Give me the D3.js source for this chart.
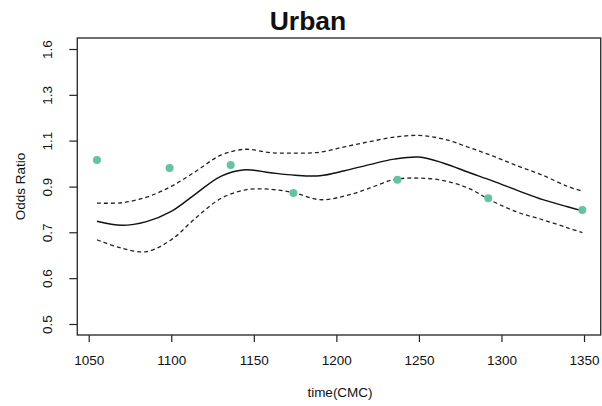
<!DOCTYPE html>
<html>
<head>
<meta charset="utf-8">
<script src="https://cdn.jsdelivr.net/npm/d3@7"></script>
<style>
  html, body { margin: 0; padding: 0; background: #fff; }
  svg text { font-family: "Liberation Sans", Arial, Helvetica, sans-serif; fill: #111; }
</style>
</head>
<body>
<svg id="chart" width="602" height="406"></svg>
<script>
// Observed odds ratios by survey time (CMC)
const pointTimes = [1055, 1099, 1136, 1174, 1237, 1292, 1349];
const pointOR    = [1.00, 0.967, 0.980, 0.870, 0.920, 0.851, 0.810];

// Smoothed fit and its confidence band, sampled along time
const curveTimes = [1055, 1070, 1085, 1100, 1115, 1130, 1145, 1160, 1175, 1190, 1205,
                    1220, 1235, 1250, 1265, 1280, 1295, 1310, 1325, 1340, 1349];
const fitOR   = [0.772, 0.759, 0.771, 0.805, 0.868, 0.934, 0.960, 0.948, 0.938, 0.936, 0.956,
                 0.981, 1.004, 1.013, 0.987, 0.950, 0.915, 0.879, 0.846, 0.821, 0.807];
const upperOR = [0.834, 0.835, 0.855, 0.895, 0.954, 1.021, 1.047, 1.032, 1.030, 1.034, 1.058,
                 1.081, 1.102, 1.110, 1.093, 1.056, 1.017, 0.975, 0.938, 0.895, 0.877];
const lowerOR = [0.714, 0.689, 0.679, 0.714, 0.784, 0.850, 0.882, 0.884, 0.870, 0.846, 0.859,
                 0.888, 0.921, 0.927, 0.917, 0.888, 0.839, 0.802, 0.777, 0.751, 0.736];

// Axis ticks (y axis is logarithmic, ticks evenly spaced in log units)
const xTicks = [1050, 1100, 1150, 1200, 1250, 1300, 1350];
const yTicks = [0.5, 0.607, 0.737, 0.894, 1.086, 1.318, 1.6];
const yTickLabels = ["0.5", "0.6", "0.7", "0.9", "1.1", "1.3", "1.6"];

const svg = d3.select("#chart");
const plot = { left: 77.3, right: 600.7, top: 38, bottom: 335 };

const x = d3.scaleLinear().domain([1043.1, 1360.1]).range([plot.left, plot.right]);
const yPad = Math.pow(1.6 / 0.5, 0.04);
const y = d3.scaleLog().domain([0.5 / yPad, 1.6 * yPad]).range([plot.bottom, plot.top]);

// Title
svg.append("text")
  .attr("x", 308).attr("y", 30)
  .attr("text-anchor", "middle")
  .style("font-size", "26.5px").style("font-weight", "bold")
  .text("Urban");

// X axis
const xAxis = svg.append("g").attr("transform", `translate(0,${plot.bottom})`)
  .call(d3.axisBottom(x).tickValues(xTicks).tickFormat(d3.format("d")).tickSize(7));
xAxis.select(".domain").remove();
xAxis.selectAll("line").attr("stroke", "#222").attr("stroke-width", 1.2);
xAxis.selectAll("text").style("font-size", "13.5px").attr("dy", null).attr("y", 30);

// Y axis with rotated labels
const yAxis = svg.append("g").attr("transform", `translate(${plot.left},0)`)
  .call(d3.axisLeft(y).tickValues(yTicks).tickFormat((d, i) => yTickLabels[i]).tickSize(8));
yAxis.select(".domain").remove();
yAxis.selectAll("line").attr("stroke", "#222").attr("stroke-width", 1.2);
yAxis.selectAll("text")
  .attr("x", null).attr("dy", null)
  .attr("text-anchor", "middle")
  .attr("transform", "translate(-25,0) rotate(-90)")
  .style("font-size", "13.5px");

// Axis titles
svg.append("text")
  .attr("x", 340).attr("y", 397)
  .attr("text-anchor", "middle")
  .style("font-size", "13.5px")
  .text("time(CMC)");
svg.append("text")
  .attr("transform", `translate(25,${(plot.top + plot.bottom) / 2}) rotate(-90)`)
  .attr("text-anchor", "middle")
  .style("font-size", "13.5px")
  .text("Odds Ratio");

// Plot frame
svg.append("rect")
  .attr("x", plot.left).attr("y", plot.top)
  .attr("width", plot.right - plot.left).attr("height", plot.bottom - plot.top)
  .attr("fill", "none").attr("stroke", "#333").attr("stroke-width", 1.4);

// Fitted curve and confidence limits
const line = d3.line()
  .x((d, i) => x(curveTimes[i]))
  .y(d => y(d))
  .curve(d3.curveCatmullRom.alpha(0.5));

[upperOR, lowerOR].forEach(series => {
  svg.append("path").datum(series)
    .attr("d", line)
    .attr("fill", "none").attr("stroke", "#222")
    .attr("stroke-width", 1.3).attr("stroke-dasharray", "4,3");
});
svg.append("path").datum(fitOR)
  .attr("d", line)
  .attr("fill", "none").attr("stroke", "#111").attr("stroke-width", 1.4);

// Observed points
svg.append("g").selectAll("circle")
  .data(pointOR)
  .join("circle")
  .attr("cx", (d, i) => x(pointTimes[i]))
  .attr("cy", d => y(d))
  .attr("r", 4)
  .attr("fill", "#66c2a5");
</script>
</body>
</html>
